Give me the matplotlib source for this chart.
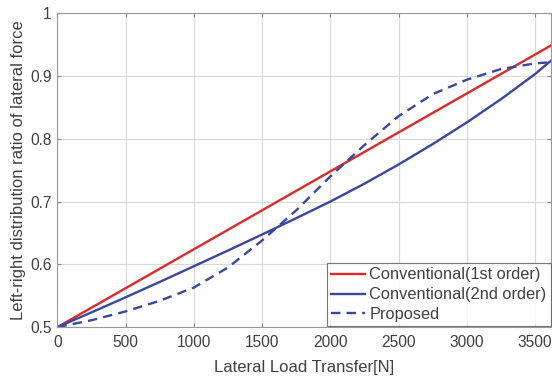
import matplotlib.pyplot as plt

# lateral load transfer [N]
x_1st = [0, 3620]
y_1st = [0.5, 0.949]

x_2nd = [0, 250, 500, 750, 1000, 1250, 1500, 1750, 2000, 2250, 2500,
         2750, 3000, 3250, 3500, 3620]
y_2nd = [0.5, 0.5235, 0.5475, 0.572, 0.597, 0.622, 0.6475, 0.6735, 0.700,
         0.7285, 0.759, 0.7915, 0.826, 0.863, 0.903, 0.925]

x_prop = [0, 250, 500, 750, 1000, 1250, 1500, 1750, 2000, 2250, 2500,
          2750, 3000, 3250, 3500, 3620]
y_prop = [0.5, 0.511, 0.525, 0.542, 0.563, 0.595, 0.638, 0.686, 0.740,
          0.790, 0.836, 0.871, 0.894, 0.911, 0.920, 0.922]

xticks = [0, 500, 1000, 1500, 2000, 2500, 3000, 3500]
yticks = [0.5, 0.6, 0.7, 0.8, 0.9, 1.0]
ytick_labels = ["0.5", "0.6", "0.7", "0.8", "0.9", "1"]

plt.rcParams['font.family'] = ['Liberation Sans', 'DejaVu Sans']
text_col = "#404040"

fig = plt.figure(figsize=(5.52, 3.76), dpi=100)
ax = fig.add_axes([0.104, 0.130, 0.895, 0.835])

ax.plot(x_1st, y_1st, color="#e0282a", lw=1.7, label="Conventional(1st order)")
ax.plot(x_2nd, y_2nd, color="#3a479e", lw=1.7, label="Conventional(2nd order)")
ax.plot(x_prop, y_prop, color="#3a479e", lw=1.7, ls=(0, (4, 2.6)), label="Proposed")

ax.set_xlim(0, 3620)
ax.set_ylim(0.5, 1.0)
ax.set_xticks(xticks)
ax.set_yticks(yticks)
ax.set_yticklabels(ytick_labels)
ax.grid(color="#d8d8d8", lw=0.8)
ax.set_axisbelow(True)

ax.tick_params(direction="in", length=3, labelsize=11.2, colors="#888888",
               labelcolor=text_col, top=True, right=True, pad=4)
ax.tick_params(axis="x", pad=6)
for s in ax.spines.values():
    s.set_color("#999999")
    s.set_linewidth(0.8)

ax.set_xlabel("Lateral Load Transfer[N]", fontsize=12, color=text_col, labelpad=7)
ax.set_ylabel("Left-right distribution ratio of lateral force", fontsize=12,
              color=text_col, labelpad=3)

leg = ax.legend(loc="lower right", fontsize=11.8, frameon=True, fancybox=False,
                borderaxespad=0.05, handlelength=2.1, handletextpad=0.25,
                labelspacing=0.3, borderpad=0.25)
leg.get_frame().set_edgecolor("#555555")
leg.get_frame().set_linewidth(0.8)
for t in leg.get_texts():
    t.set_color(text_col)

fig.savefig("out.png", dpi=100)
